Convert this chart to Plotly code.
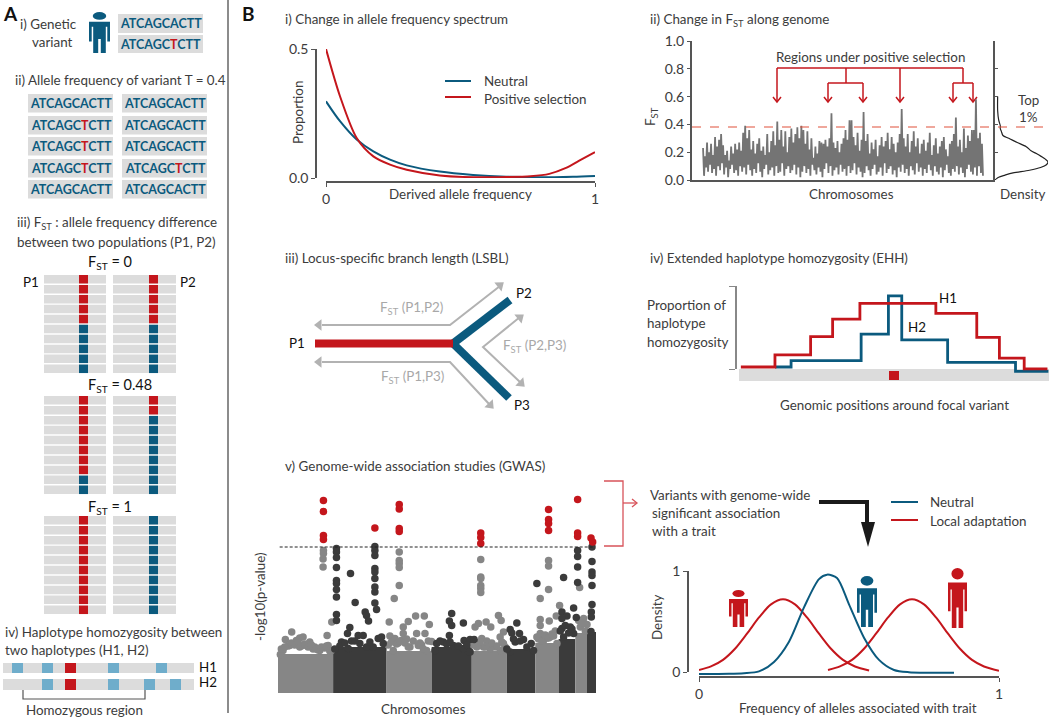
import math
import plotly.graph_objects as go

W, H = 1050, 718
FONT = "Lato, Roboto, sans-serif"
BODY = 13.4
TXT = "#3c3c3c"
INK = "#111111"
TEAL = "#0b5a7e"
RED = "#c4161c"
GREY = "#dcdcdc"
SKY = "#6fadcb"
ARROW = "#b2b2b2"

# ---------- data ----------
afs_x_red = [0, .052, .114, .176, .238, .3, .423, .547, .67, .76, .83, .89, .95, 1]
afs_red = [.5, .317, .155, .084, .052, .032, .01, .003, .004, .007, .016, .038, .072, .10]
afs_x_neutral = [0, .052, .114, .176, .238, .3, .423, .547, .67, .795, .918, 1]
afs_neutral = [.297, .22, .149, .103, .071, .049, .025, .012, .005, .003, .005, .008]

fst_peaks = [.23,.17,.27,.20,.26,.18,.31,.24,.29,.33,
             .25,.18,.21,.14,.24,.19,.26,.22,.27,.21,
             .34,.39,.30,.36,.22,.28,.19,.26,.30,.21,
             .24,.18,.33,.20,.28,.35,.25,.42,.29,.36,
             .24,.35,.20,.31,.37,.27,.33,.38,.30,.39,
             .36,.26,.35,.22,.30,.16,.24,.19,.28,.27,
             .26,.29,.24,.30,.48,.27,.23,.28,.20,.26,
             .30,.36,.29,.43,.43,.31,.25,.34,.21,.29,
             .49,.28,.33,.19,.27,.22,.29,.17,.25,.31,
             .24,.28,.34,.22,.31,.26,.20,.27,.33,.51,
             .30,.24,.33,.20,.28,.35,.24,.30,.19,.26,
             .29,.21,.27,.34,.18,.25,.30,.19,.24,.28,
             .31,.22,.17,.26,.28,.33,.45,.24,.29,.20,
             .37,.23,.32,.28,.36,.36,.58,.30,.34,.26]
fst_troughs = [.03,.09,.06,.11,.05,.08,.03,.10,.07,.12,
               .04,.09,.02,.08,.11,.05,.07,.03,.10,.06,
               .09,.04,.11,.07,.03,.08,.05,.12,.06,.02,
               .08,.11,.04,.07,.09,.03,.10,.05,.06,.12,
               .03,.08,.10,.05,.07,.11,.04,.09,.02,.06,
               .10,.05,.08,.03,.11,.07,.04,.09,.06,.02,
               .08,.12,.05,.10,.03,.07,.09,.04,.11,.06,
               .08,.03,.10,.05,.07,.12,.04,.09,.06,.02,
               .05,.10,.07,.03,.08,.11,.04,.06,.09,.03,
               .12,.05,.08,.10,.04,.07,.02,.09,.06,.11,
               .05,.08,.03,.10,.07,.04,.12,.06,.09,.03,
               .08,.05,.11,.07,.03,.10,.06,.04,.09,.02,
               .07,.11,.05,.03,.08,.06,.10,.04,.09,.05,
               .02,.08,.11,.06,.04,.09,.03,.10,.05,.03]
fst_series = [v for pair in zip(fst_peaks, fst_troughs) for v in pair]
fst_ticks = [0, .2, .4, .6, .8, 1.0]
dens_f = [0, .01, .02, .035, .05, .07, .09, .11, .13, .15, .17, .19, .21, .24, .27, .30, .32, .35, .37, .39, .43, .5, .6]
dens_v = [.0, .03, .07, .19, .32, .65, .86, .97, 1.0, .95, .87, .78, .68, .59, .42, .26, .15, .12, .10, .10, .07, .05, .05]

ehh_x1 = [.006, .116, .231, .302, .39, .635, .767, .84, .92, .995]
ehh_h1 = [.024, .17, .39, .6, .79, .67, .38, .13, 0, 0]
ehh_x2 = [.116, .168, .394, .482, .525, .673, .892, .998]
ehh_h2 = [.024, .1, .42, .88, .35, .08, -.03, -.03]

chrom_left = [85, 250, 410, 545, 665, 770, 855, 925, 975, 1010]
chrom_right = [250, 410, 545, 665, 770, 855, 925, 975, 1010, 1037]
chrom_base = [1.95, 2.3, 2.1, 2.3, 2.1, 2.2, 2.5, 2.7, 3.0, 3.05]
chrom_shade = ["#868686", "#3b3b3b"] * 5
gwas_threshold = 7.3
gwas_red_x = [221,221,221,221,375,448,448,448,448,692,692,692,895,895,895,895,982,982,982,1022,1027]
gwas_red_y = [9.62,9.08,7.88,7.68,8.25,9.42,9.2,8.22,8.08,8.0,7.77,7.47,9.17,8.67,8.47,8.13,9.67,8.0,7.83,7.75,7.55]
gwas_grey_x = [221,221,220,220,246,232,448,448,448,448,448,433,418,692,692,692,692,692,692,895,895,895,870,870,870,870,897,
               988,928,918,107,126,150,140,160,180,195,120,100,92,235,245,170,210,150,130,115,190,225,205,
               420,435,460,475,497,523,538,525,500,460,455,545,480,505,430,530,445,470,515,
               675,685,708,722,745,753,760,750,695,710,680,735,760,750,720,700,
               880,900,915,920,865,905,890,985,1000,1010,990,1005,995,
               95,105,125,135,145,155,165,175,185,200,215,230,240,
               415,425,440,450,465,475,490,510,520,535,
               670,690,705,715,725,740,755,765,
               860,875,885,895,910]
gwas_grey_y = [7.13,6.97,6.7,6.3,3.55,2.88,7.05,6.63,6.47,6.27,5.38,4.73,3.55,6.67,5.8,5.72,5.38,5.22,5.02,6.63,6.35,5.18,4.72,3.68,3.38,2.97,3.6,
               5.27,4.37,3.85,2.68,3.05,2.75,2.63,2.8,2.55,2.3,2.38,2.13,1.93,2.38,2.13,2.38,2.13,2.3,2.45,2.35,2.2,2.25,2.15,
               2.85,2.72,3.3,3.58,3.85,3.85,3.42,2.97,2.97,2.97,2.63,2.58,2.3,2.38,2.13,2.13,2.5,2.7,2.4,
               3.3,3.47,3.55,3.3,3.88,3.63,3.05,2.8,2.72,2.6,2.3,2.3,2.47,2.13,2.2,2.3,
               2.63,2.8,3.1,2.47,2.7,2.95,2.75,3.63,3.72,3.43,3.3,3.1,3.5,
               2.2,2.3,2.5,2.4,2.55,2.35,2.45,2.3,2.4,2.2,2.3,2.35,2.1,
               2.4,2.55,2.45,2.6,2.5,2.3,2.6,2.5,2.2,2.6,
               2.4,2.55,2.3,2.45,2.5,2.35,2.55,2.3,
               2.8,2.6,2.9,2.75,2.85]
gwas_dark_x = [260,260,260,260,260,260,260,260,260,260,302,316,346,350,356,375,375,375,375,375,375,375,375,375,380,300,293,275,305,325,340,295,330,385,395,370,350,400,270,285,315,360,255,
               605,598,605,640,598,642,660,672,560,580,610,640,660,555,590,625,570,600,650,
               780,785,800,808,795,820,843,830,850,780,770,790,810,
               860,940,982,982,982,982,970,978,935,950,935,935,960,945,970,940,955,930,965,
               1025,1025,1025,1025,1025,1025,1023,1023,1022]
gwas_dark_y = [7.22,7.05,6.77,6.27,5.63,5.47,5.18,4.8,3.93,3.63,5.98,4.52,4.05,3.88,3.6,7.33,7.13,6.88,6.22,6.05,5.72,5.3,5.05,4.5,4.17,3.27,2.97,2.55,2.6,2.88,2.88,2.22,2.47,2.72,2.8,2.3,2.3,2.47,2.35,2.5,2.6,2.55,2.2,
               3.97,3.6,3.38,3.5,2.88,2.63,2.67,2.68,2.47,2.55,2.38,2.22,2.05,2.13,2.45,2.35,2.6,2.55,2.4,
               3.17,3.0,3.5,2.97,2.55,2.67,2.47,2.3,2.13,2.05,2.2,2.7,2.6,
               5.47,5.77,7.13,6.83,6.3,5.52,4.25,3.77,4.05,3.85,3.72,3.22,3.3,3.38,2.97,2.8,3.0,3.1,3.2,
               7.3,6.58,6.05,5.88,5.38,4.43,4.05,3.8,3.08]

trait_x_low = [0, .04, .08, .12, .16, .2, .24, .28, .32, .36, .4, .44, .48, .52, .567]
trait_low = [.02, .055, .12, .23, .38, .54, .67, .72, .67, .54, .38, .23, .12, .055, .015]
trait_x_high = [.43, .47, .51, .55, .59, .63, .67, .71, .75, .79, .83, .87, .91, .95, 1]
trait_high = [.02, .055, .12, .23, .38, .54, .67, .72, .67, .54, .38, .23, .12, .055, .013]
trait_x_neutral = [0, .1, .15, .2, .25, .3, .35, .4, .427, .46, .5, .55, .6, .65, .7, .85]
trait_neutral = [-.02, -.018, -.012, .006, .1, .3, .64, .92, .964, .93, .67, .34, .12, .02, -.002, -.007]

seq_wild = "ATCAGCACTT"
seq_variant = ('ATCAGC<span style="color:%s">T</span>CTT' % RED)
seq_left_has_t = [False, True, True, True, False]
seq_right_has_t = [False, False, False, True, False]
fst_panels = [("0", 5, 5), ("0.48", 8, 2), ("1", 10, 0)]
hap1_marks = [(12, 23), (42, 53), (108, 119), (156, 167)]
hap2_marks = [(42, 53), (108, 119), (144, 155), (170, 181)]

# ---------- helpers ----------
def xd(a, b): return [a / W, b / W]
def yd(top, bottom): return [1 - bottom / H, 1 - top / H]

shapes, annos, traces = [], [], []

def txt(x, y, s, size=BODY, color=TXT, anchor="left", angle=0):
    annos.append(dict(x=x, y=y, xref="x", yref="y", text=s, showarrow=False, xanchor=anchor, yanchor="middle",
                      textangle=angle, font=dict(family=FONT, size=size, color=color)))

def rect(x0, y0, x1, y1, color, layer="below"):
    shapes.append(dict(type="rect", xref="x", yref="y", x0=x0, y0=y0, x1=x1, y1=y1,
                       fillcolor=color, line=dict(width=0), layer=layer))

def poly(xs, ys, color, width=1.6, dash=None):
    traces.append(go.Scatter(x=xs, y=ys, mode="lines", line=dict(color=color, width=width, dash=dash),
                             hoverinfo="skip", showlegend=False, xaxis="x", yaxis="y"))

def head(tip_x, tip_y, from_x, from_y, color=ARROW, size=10):
    dx, dy = tip_x - from_x, tip_y - from_y
    n = math.hypot(dx, dy)
    traces.append(go.Scatter(x=[tip_x - 4 * dx / n], y=[tip_y - 4 * dy / n], mode="markers",
                             marker=dict(symbol="triangle-up", size=size, color=color, angle=math.degrees(math.atan2(dx, -dy)),
                                         line=dict(width=0)),
                             hoverinfo="skip", showlegend=False, xaxis="x", yaxis="y"))

def person(x0, y0, x1, y1, color):
    w, h = x1 - x0, y1 - y0
    fx = lambda f: x0 + f * w
    fy = lambda f: y0 + f * h
    shapes.append(dict(type="circle", xref="x", yref="y", x0=fx(.18), x1=fx(.82), y0=fy(0), y1=fy(.19),
                       fillcolor=color, line=dict(width=0), layer="above"))
    pts = [(0, .24), (1, .24), (1, .72), (.87, .72), (.87, .36), (.8, .36), (.8, 1), (.56, 1), (.56, .66),
           (.44, .66), (.44, 1), (.2, 1), (.2, .36), (.13, .36), (.13, .72), (0, .72)]
    path = "M" + " L".join(f"{fx(a):.1f},{fy(b):.1f}" for a, b in pts) + " Z"
    shapes.append(dict(type="path", xref="x", yref="y", path=path, fillcolor=color, line=dict(width=0), layer="above"))

FST = "F<sub>ST</sub>"

# ---------- panel A ----------
txt(1, 13, "<b>A</b>", 19, INK)
txt(18, 24, "i) Genetic")
txt(30, 42, "variant")
person(89, 12, 110, 53, TEAL)
for y0, y1, s in [(14, 33, seq_wild), (35, 53, seq_variant)]:
    rect(118, y0, 203, y1, GREY)
    txt(160.5, (y0 + y1) / 2, f"<b>{s}</b>", 12.5, TEAL, "center")

txt(13, 80, "ii) Allele frequency of variant T = 0.4")
row_tops = [94, 116, 137, 159, 180]
for top, l, r in zip(row_tops, seq_left_has_t, seq_right_has_t):
    rect(28, top, 113, top + 18.5, GREY)
    rect(122, top, 207, top + 18.5, GREY)
    txt(71, top + 9.5, f"<b>{seq_variant if l else seq_wild}</b>", 12.5, TEAL, "center")
    txt(165, top + 9.5, f"<b>{seq_variant if r else seq_wild}</b>", 12.5, TEAL, "center")

txt(15, 223, f"iii) {FST} : allele frequency difference")
txt(15, 242, "between two populations (P1, P2)")

for (label, n1, n2), top, laby in zip(fst_panels, [275, 396, 516], [262, 385, 507]):
    txt(110 if len(label) == 1 else 120, laby, f"{FST} = {label}", 14.5, INK, "center")
    for i in range(10):
        y0 = top + i * 9.95
        rect(44, y0, 106, y0 + 8.5, GREY)
        rect(113, y0, 176, y0 + 8.5, GREY)
        rect(79, y0, 88, y0 + 8.5, RED if i < n1 else TEAL)
        rect(149, y0, 158, y0 + 8.5, RED if i < n2 else TEAL)
txt(31, 282, "P1", BODY, INK, "center")
txt(188, 282, "P2", BODY, INK, "center")

txt(3, 632, "iv) Haplotype homozygosity between")
txt(3, 650, "two haplotypes (H1, H2)")
for y0, y1, marks, lab, ly in [(663, 673, hap1_marks, "H1", 667), (679, 690, hap2_marks, "H2", 682)]:
    rect(3, y0, 194, y1, GREY)
    for a, b in marks:
        rect(a, y0, b, y1, SKY)
    rect(65, y0, 76, y1, RED)
    txt(208, ly, lab, BODY, INK, "center")
poly([23, 23, 145, 145], [690, 699, 699, 690], "#555555", 1.2)
txt(84, 710, "Homozygous region", BODY, TXT, "center")

poly([228, 228], [0, 713], "#666666", 1.5)

# ---------- panel B text ----------
txt(240, 13, "<b>B</b>", 19, INK)
txt(283, 19, "i) Change in allele frequency spectrum")
txt(648, 20, f"ii) Change in {FST} along genome")
txt(283, 258, "iii) Locus-specific branch length (LSBL)")
txt(648, 258, "iv) Extended haplotype homozygosity (EHH)")
txt(283, 466, "v) Genome-wide association studies (GWAS)")

# panel i texts
txt(298, 113, "Proportion", BODY, TXT, "center", -90)
txt(460, 194, "Derived allele frequency", BODY, TXT, "center")
poly([445, 471], [81, 81], TEAL, 2)
poly([445, 471], [97, 97], RED, 2)
txt(482, 81, "Neutral")
txt(482, 99, "Positive selection")

# panel ii annotations
txt(870, 57, "Regions under positive selection", BODY, TXT, "center")
poly([777, 963], [68, 68], RED, 1.5)
poly([846, 846], [68, 83], RED, 1.5)
poly([963, 963], [68, 83], RED, 1.5)
poly([828, 863], [83, 83], RED, 1.5)
poly([953, 973], [83, 83], RED, 1.5)
for ax in [777, 828, 863, 900, 953, 973]:
    top = 68 if ax in (777, 900) else 83
    poly([ax, ax], [top, 101], RED, 1.5)
    poly([ax - 4, ax, ax + 4], [97, 102, 97], RED, 1.5)
txt(651, 117, FST, BODY, TXT, "center", -90)
txt(851, 194, "Chromosomes", BODY, TXT, "center")
txt(1022, 194, "Density", BODY, TXT, "center")
txt(1028, 100, "Top", BODY, TXT, "center")
txt(1028, 117, "1%", BODY, TXT, "center")

# panel iii diagram
poly([322, 450, 500], [325, 325, 286], ARROW, 2)
poly([322, 450, 490], [362, 362, 405], ARROW, 2)
poly([520, 483, 521], [317, 347, 383], ARROW, 2)
head(315, 325, 335, 325)
head(315, 362, 335, 362)
head(503, 283, 450, 325)
head(493, 408, 450, 362)
head(523, 315, 483, 347)
head(524, 386, 483, 347)
poly([453, 510], [343.5, 300], TEAL, 8)
poly([453, 509], [343.5, 398], TEAL, 8)
poly([315, 453], [343.5, 343.5], RED, 8)
txt(297, 343, "P1", BODY, INK, "center")
txt(524, 293, "P2", BODY, INK, "center")
txt(522, 405, "P3", BODY, INK, "center")
txt(411, 308, f"{FST} (P1,P2)", BODY, "#a8a8a8", "center")
txt(412, 377, f"{FST} (P1,P3)", BODY, "#a8a8a8", "center")
txt(534, 346, f"{FST} (P2,P3)", BODY, "#a8a8a8", "center")

# panel iv
rect(739, 369, 1049, 381, GREY)
rect(889, 371, 899, 380, RED, "above")
txt(645, 305, "Proportion of")
txt(645, 323, "haplotype")
txt(645, 342, "homozygosity")
txt(948, 298, "H1", BODY, INK, "center")
txt(917, 327, "H2", BODY, INK, "center")
txt(894, 405, "Genomic positions around focal variant", BODY, TXT, "center")

# panel v
txt(260, 597, "-log10(p-value)", BODY, TXT, "center", -90)
txt(423, 709, "Chromosomes", BODY, TXT, "center")
poly([604, 623, 623, 604], [481, 481, 546, 546], "#d8535a", 1.3)
poly([623, 636], [503, 503], "#d8535a", 1.3)
poly([632, 637, 632], [499, 503, 507], "#d8535a", 1.3)
txt(648, 495, "Variants with genome-wide")
txt(650, 513, "significant association")
txt(650, 531, "with a trait")
poly([819, 867, 867], [502, 502, 522], "#1a1a1a", 4)
shapes.append(dict(type="path", xref="x", yref="y", path="M861,522 L875,522 L868,547 Z",
                   fillcolor="#1a1a1a", line=dict(width=0), layer="above"))
poly([891, 918], [502, 502], TEAL, 2)
poly([891, 918], [520, 520], RED, 2)
txt(928, 502, "Neutral")
txt(928, 521, "Local adaptation")

# trait density text
txt(657, 618, "Density", BODY, TXT, "center", -90)
txt(858, 708, "Frequency of alleles associated with trait", BODY, TXT, "center")
person(729, 590, 748, 627, RED)
person(857, 576, 877, 627, TEAL)
person(948, 568, 967, 628, RED)

shapes.append(dict(type="line", xref="x", yref="y", x0=692, x1=1050, y0=127, y1=127,
                   line=dict(color="#e0503a", width=1.2, dash="dash"), layer="above"))

# ---------- data traces ----------
def line(x, y, c, w, ax, shape="spline", smooth=.8):
    ln = dict(color=c, width=w, shape=shape)
    if shape == "spline":
        ln["smoothing"] = smooth
    return go.Scatter(x=x, y=y, mode="lines", line=ln, xaxis=ax[0], yaxis=ax[1], cliponaxis=False,
                      hoverinfo="skip", showlegend=False)

def axis_holder(xa, ya):
    return go.Scatter(x=[None], y=[None], mode="lines", xaxis=xa, yaxis=ya, hoverinfo="skip", showlegend=False)

traces.append(line(afs_x_neutral, afs_neutral, TEAL, 2, ("x2", "y2")))
traces.append(line(afs_x_red, afs_red, RED, 2, ("x2", "y2")))
traces.append(line(list(range(len(fst_series))), fst_series, "#747474", 1.8, ("x3", "y3"), "linear"))
traces.append(line(dens_v, dens_f, "#222222", 1.2, ("x4", "y4")))
traces.append(axis_holder("x5", "y5"))
traces.append(line(ehh_x2, ehh_h2, TEAL, 2.8, ("x5", "y9"), "hv"))
traces.append(line(ehh_x1, ehh_h1, RED, 2.8, ("x5", "y9"), "hv"))
traces.append(go.Bar(x=[(a + b) / 2 for a, b in zip(chrom_left, chrom_right)], y=chrom_base,
                     width=[b - a for a, b in zip(chrom_left, chrom_right)],
                     marker=dict(color=chrom_shade, line=dict(width=0)), xaxis="x6", yaxis="y6",
                     hoverinfo="skip", showlegend=False))
for xs, ys, c in [(gwas_grey_x, gwas_grey_y, "#868686"), (gwas_dark_x, gwas_dark_y, "#3b3b3b"), (gwas_red_x, gwas_red_y, RED)]:
    traces.append(go.Scatter(x=xs, y=ys, mode="markers", marker=dict(color=c, size=7.5, line=dict(width=0)),
                             xaxis="x6", yaxis="y6", cliponaxis=False, hoverinfo="skip", showlegend=False))
traces.append(go.Scatter(x=[90, 1030], y=[gwas_threshold, gwas_threshold], mode="lines",
                         line=dict(color="#222222", width=1.2, dash="3px,2px"), xaxis="x6", yaxis="y6",
                         cliponaxis=False, hoverinfo="skip", showlegend=False))
traces.append(axis_holder("x7", "y7"))
traces.append(line(trait_x_low, trait_low, RED, 2, ("x7", "y8")))
traces.append(line(trait_x_high, trait_high, RED, 2, ("x7", "y8")))
traces.append(line(trait_x_neutral, trait_neutral, TEAL, 2, ("x7", "y8")))

# ---------- layout ----------
base = dict(automargin=False, fixedrange=True, showgrid=False, zeroline=False)
hidden = dict(visible=False, **base)
tickfont = dict(family=FONT, size=14, color=TXT)
AX = "#555555"
lay = dict(
    width=W, height=H, margin=dict(l=0, r=0, t=0, b=0), autosize=False,
    paper_bgcolor="white", plot_bgcolor="rgba(0,0,0,0)", showlegend=False, shapes=shapes, annotations=annos,
    xaxis=dict(range=[0, W], domain=[0, 1], **hidden),
    yaxis=dict(range=[H, 0], domain=[0, 1], **hidden),
    xaxis2=dict(domain=xd(326, 595), range=[0, 1], anchor="free", position=1 - 182 / H, showline=True, linecolor=AX,
                linewidth=1.5, ticks="outside", ticklen=4, tickcolor=AX, tickvals=[0, 1], ticktext=["0", "1"],
                tickfont=tickfont, **base),
    yaxis2=dict(domain=yd(49, 178), range=[0, .5], anchor="free", position=316 / W, showline=True, linecolor=AX,
                linewidth=1.5, ticks="outside", ticklen=4, tickcolor=AX, tickvals=[0, .5], ticktext=["0.0", "0.5"],
                tickfont=tickfont, **base),
    xaxis3=dict(domain=xd(692, 995), range=[-11, 291], anchor="y3", showline=True, linecolor=AX, linewidth=1.5,
                showticklabels=False, ticks="", **base),
    yaxis3=dict(domain=yd(41, 180), range=[0, 1], anchor="x3", showline=True, linecolor=AX, linewidth=2,
                ticks="outside", ticklen=3, tickcolor=AX, tickvals=fst_ticks, tickformat=".1f",
                tickfont=tickfont, **base),
    xaxis4=dict(domain=xd(995, 1048), range=[0, 1], anchor="y4", **hidden),
    yaxis4=dict(domain=yd(41, 180), range=[0, 1], anchor="x4", showline=True, linecolor=AX, linewidth=1.5,
                ticks="inside", ticklen=3, tickcolor=AX, tickvals=fst_ticks, showticklabels=False, **base),
    xaxis5=dict(domain=xd(739, 1049), range=[0, 1], anchor="free", position=0, **hidden),
    yaxis5=dict(domain=yd(286, 369), range=[0, 1], anchor="free", position=736 / W, showline=True, linecolor="#888888",
                linewidth=1.5, ticks="outside", ticklen=6, tickcolor="#888888", tickvals=[0, 1], showticklabels=False,
                **base),
    yaxis9=dict(domain=yd(286, 381), range=[-.145, 1], anchor="free", position=0, **hidden),
    xaxis6=dict(domain=xd(278, 596), range=[85, 1037], anchor="y6", **hidden),
    yaxis6=dict(domain=yd(483, 693), range=[0, 10.5], anchor="x6", **hidden),
    xaxis7=dict(domain=xd(699, 999), range=[0, 1], anchor="free", position=1 - 677 / H, showline=True, linecolor=AX,
                linewidth=1.5, ticks="outside", ticklen=4, tickcolor=AX, tickvals=[0, 1], ticktext=["0", "1"],
                tickfont=tickfont, **base),
    yaxis7=dict(domain=yd(571, 672), range=[0, 1], anchor="free", position=688 / W, showline=True, linecolor=AX,
                linewidth=1.5, ticks="outside", ticklen=4, tickcolor=AX, tickvals=[0, 1], ticktext=["0", "1"],
                tickfont=tickfont, **base),
    yaxis8=dict(domain=yd(571, 680.08), range=[-.08, 1], anchor="free", position=0, **hidden),
)
fig = go.Figure(data=traces, layout=lay)
fig.write_html("out.html", config=dict(displayModeBar=False), post_script="document.body.style.margin='0';")
